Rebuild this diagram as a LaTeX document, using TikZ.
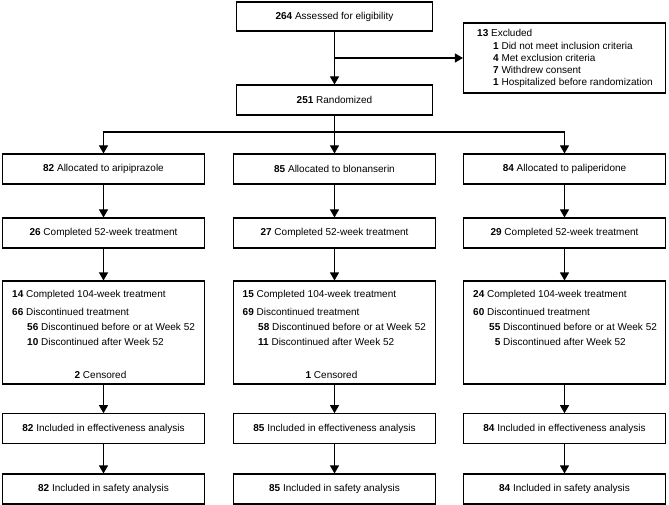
\documentclass[tikz,border=0pt]{standalone}
\usepackage{fontspec}
\setmainfont{Liberation Sans}
\usetikzlibrary{arrows.meta}
\begin{document}
\begin{tikzpicture}[x=1pt,y=-1pt,
  box/.style={draw, line width=1.1pt, inner sep=0pt, minimum width=202pt, minimum height=30pt, align=center, font=\fontsize{10}{12}\selectfont},
  txt/.style={inner sep=0pt, anchor=base west, font=\fontsize{10}{12}\selectfont},
  ctxt/.style={inner sep=0pt, anchor=base, font=\fontsize{10}{12}\selectfont},
  conn/.style={line width=1.1pt, -{Triangle[length=8pt,width=9pt]}},
  plain/.style={line width=1.1pt}]
\useasboundingbox (0,0) rectangle (669,505);

% top
\node[box, minimum width=196pt, minimum height=29pt] (assess) at (334.5,16.5) {\textbf{264} Assessed for eligibility};
\node[box, minimum width=196pt, minimum height=30pt] (rand) at (334.5,100) {\textbf{251} Randomized};
\node[box, minimum width=202pt, minimum height=70pt] (excl) at (564.5,58) {};
\node[txt] (ex0) at (477,37) {\textbf{13} Excluded};
\node[txt] (ex1) at (493,49.2) {\textbf{1} Did not meet inclusion criteria};
\node[txt] (ex2) at (493,61.4) {\textbf{4} Met exclusion criteria};
\node[txt] (ex3) at (493,73.6) {\textbf{7} Withdrew consent};
\node[txt] (ex4) at (493,85.8) {\textbf{1} Hospitalized before randomization};

\coordinate (j1) at (334.5,58);
\coordinate (j2) at (334.5,132);
\draw[conn] (assess) -- (rand);
\draw[conn] (j1) -- (excl.west);

% columns
\node[box] (alA) at (103.5,169) {\textbf{82} Allocated to aripiprazole};
\node[box] (alB) at (334.5,169) {\textbf{85} Allocated to blonanserin};
\node[box] (alC) at (564.5,169) {\textbf{84} Allocated to paliperidone};

\draw[plain] (rand) -- (j2);
\draw[conn] (j2) -| (alA);
\draw[conn] (j2) -- (alB);
\draw[conn] (j2) -| (alC);

\node[box] (cA) at (103.5,233) {\textbf{26} Completed 52-week treatment};
\node[box] (cB) at (334.5,233) {\textbf{27} Completed 52-week treatment};
\node[box] (cC) at (564.5,233) {\textbf{29} Completed 52-week treatment};

\node[box, minimum height=103pt] (dA) at (103.5,332.5) {};
\node[box, minimum height=103pt] (dB) at (334.5,332.5) {};
\node[box, minimum height=103pt] (dC) at (564.5,332.5) {};

\node[txt] (dA1) at (12,297) {\textbf{14} Completed 104-week treatment};
\node[txt] (dA2) at (12,315.6) {\textbf{66} Discontinued treatment};
\node[txt] (dA3) at (27,330.6) {\textbf{56} Discontinued before or at Week 52};
\node[txt] (dA4) at (27,345.6) {\textbf{10} Discontinued after Week 52};
\node[ctxt] (dA5) at (100.5,378.6) {\textbf{2} Censored};

\node[txt] (dB1) at (242.5,297) {\textbf{15} Completed 104-week treatment};
\node[txt] (dB2) at (242.5,315.6) {\textbf{69} Discontinued treatment};
\node[txt] (dB3) at (258,330.6) {\textbf{58} Discontinued before or at Week 52};
\node[txt] (dB4) at (258,345.6) {\textbf{11} Discontinued after Week 52};
\node[ctxt] (dB5) at (331.5,378.6) {\textbf{1} Censored};

\node[txt] (dC1) at (473,297) {\textbf{24} Completed 104-week treatment};
\node[txt] (dC2) at (473,315.6) {\textbf{60} Discontinued treatment};
\node[txt] (dC3) at (489,330.6) {\textbf{55} Discontinued before or at Week 52};
\node[txt] (dC4) at (489,345.6) {\textbf{\phantom{0}5} Discontinued after Week 52};

\node[box, minimum height=29.5pt] (eA) at (103.5,428.5) {\textbf{82} Included in effectiveness analysis};
\node[box, minimum height=29.5pt] (eB) at (334.5,428.5) {\textbf{85} Included in effectiveness analysis};
\node[box, minimum height=29.5pt] (eC) at (564.5,428.5) {\textbf{84} Included in effectiveness analysis};

\node[box] (sA) at (103.5,489) {\textbf{82} Included in safety analysis};
\node[box] (sB) at (334.5,489) {\textbf{85} Included in safety analysis};
\node[box] (sC) at (564.5,489) {\textbf{84} Included in safety analysis};

\foreach \c in {A,B,C}{
  \draw[conn] (al\c) -- (c\c);
  \draw[conn] (c\c) -- (d\c);
  \draw[conn] (d\c) -- (e\c);
  \draw[conn] (e\c) -- (s\c);
}
\end{tikzpicture}
\end{document}
